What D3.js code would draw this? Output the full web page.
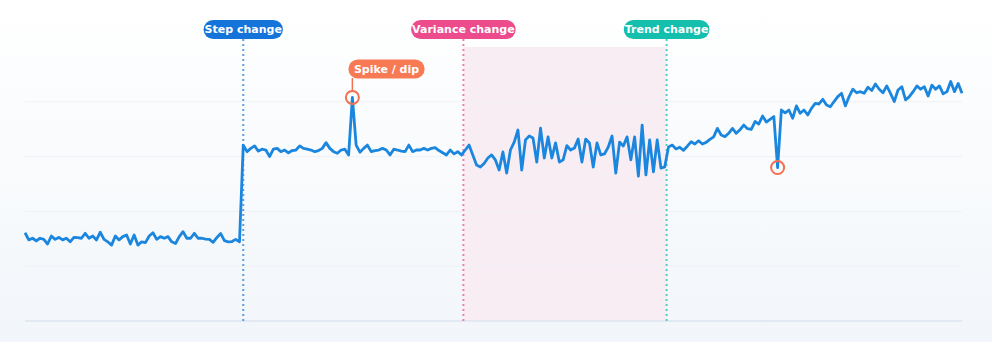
<!DOCTYPE html>
<head>
    <style>
        body { margin: 0; background: #fff; }
        svg { display: block; font-family: "DejaVu Sans", sans-serif; }
        .grid line { stroke: #eef1f6; stroke-width: 1px; }
        .baseline { stroke: #dde5ef; stroke-width: 1.5px; }
        path.series { fill: none; stroke: #1a86de; stroke-width: 2.8px; stroke-linejoin: round; }
        .pill text { fill: #fff; font-size: 11px; font-weight: bold; }
    </style>
</head>
<body>
    <script src="https://d3js.org/d3.v7.min.js"></script>
    <script>
        // regime 1: flat, low
        var lowLevel = [32.2, 29.6, 30.2, 29.2, 30.2, 29.8, 28.1, 31.0, 29.8, 30.5,
                        29.6, 30.2, 28.9, 30.5, 30.4, 30.2, 32.0, 30.2, 31.0, 29.6,
                        32.4, 29.8, 28.9, 27.7, 31.0, 29.6, 30.8, 31.4, 28.1, 31.4,
                        27.7, 28.9, 28.6, 31.0, 32.2, 29.8, 30.8, 30.2, 30.8, 28.9,
                        28.3, 30.8, 32.6, 30.2, 30.2, 32.0, 30.2, 30.2, 29.9, 29.8,
                        28.7, 30.5, 31.9, 29.3, 28.9, 29.0, 29.8, 28.9];
        // regime 2: after the step, one spike
        var highLevel = [64.2, 61.8, 63.0, 63.9, 62.0, 62.7, 62.4, 60.0, 62.7, 63.0,
                         61.8, 62.4, 61.4, 62.2, 62.4, 63.9, 63.0, 62.7, 62.4, 61.8,
                         62.2, 63.0, 65.1, 63.0, 61.8, 61.2, 62.4, 62.7, 60.6,
                         81.6,
                         64.2, 61.6, 63.0, 64.2, 61.8, 62.2, 62.4, 63.0, 62.4, 60.6,
                         62.7, 62.4, 62.0, 61.8, 64.2, 61.8, 62.4, 62.4, 63.0, 62.4,
                         63.0, 63.3, 62.2, 61.4, 60.6, 62.4, 61.0, 61.8, 60.6];
        // regime 3: same mean, more variance
        var noisyLevel = [62.4, 64.2, 60.6, 56.9, 56.2, 57.5, 59.5, 60.6, 58.8, 55.1,
                          61.7, 54.0, 62.4, 65.3, 69.7, 55.1, 66.1, 67.5, 66.8, 58.0,
                          70.4, 59.5, 67.2, 59.5, 65.0, 58.0, 58.8, 64.0, 62.4, 63.1,
                          66.4, 58.0, 66.4, 65.0, 56.2, 65.0, 60.6, 61.0, 63.5, 67.5,
                          54.0, 65.3, 63.9, 67.2, 58.8, 67.2, 52.9, 71.5, 53.3, 66.1,
                          54.4, 66.1, 55.8, 56.2];
        // regime 4: upward trend, one dip
        var trendLevel = [63.5, 64.2, 62.8, 63.4, 62.3, 63.8, 65.4, 64.6, 65.8, 64.6,
                          65.2, 66.3, 67.2, 70.3, 67.9, 67.3, 68.5, 70.3, 68.5, 69.8,
                          71.5, 70.2, 69.9, 72.8, 71.9, 74.8, 72.6, 73.6, 74.6,
                          56.0,
                          77.0, 76.0, 77.0, 74.0, 78.5, 75.8, 77.0, 75.2, 77.6, 79.4,
                          79.2, 80.9, 78.8, 78.2, 80.1, 81.9, 83.1, 78.5, 81.9, 84.6,
                          83.3, 83.7, 83.1, 85.3, 84.1, 86.5, 84.6, 83.3, 85.8, 83.1,
                          80.1, 84.3, 85.5, 80.7, 81.9, 83.7, 85.8, 84.6, 85.5, 82.1,
                          86.1, 84.6, 85.8, 82.9, 83.7, 87.4, 83.7, 86.7, 83.1];

        var values = lowLevel.concat(highLevel, noisyLevel, trendLevel);

        var eventNames = ['Step change', 'Variance change', 'Trend change'];
        var eventAt = [58, 116.5, 170.5];
        var eventColors = ['#1474d9', '#ec4b8c', '#14bfae'];
        var eventLineColors = ['#5a9fe6', '#f0809f', '#4fcfc6'];

        var anomalyAt = [87, 200];
        var anomalyLabel = 'Spike / dip';

        var gridTicks = [20, 40, 60, 80];

        var dim = {w: 992, h: 342,
                   margin: {left: 25, right: 30, top: 47, bottom: 21}};

        var svg = d3.select('body').append('svg')
                    .attr('width', dim.w)
                    .attr('height', dim.h);

        var grad = svg.append('defs').append('linearGradient')
                      .attr('id', 'bg').attr('x1', 0).attr('y1', 0)
                      .attr('x2', 0).attr('y2', 1);
        grad.append('stop').attr('offset', '0%').attr('stop-color', '#ffffff');
        grad.append('stop').attr('offset', '100%').attr('stop-color', '#f2f6fa');
        svg.append('rect').attr('width', dim.w).attr('height', dim.h)
           .attr('fill', 'url(#bg)');

        var x = d3.scaleLinear()
                  .domain([0, values.length - 1])
                  .range([dim.margin.left, dim.w - dim.margin.right]);
        var y = d3.scaleLinear()
                  .domain([0, 100])
                  .range([dim.h - dim.margin.bottom, dim.margin.top]);

        // variance band
        svg.append('rect')
           .attr('x', x(eventAt[1]))
           .attr('y', y(100))
           .attr('width', x(eventAt[2]) - x(eventAt[1]))
           .attr('height', y(0) - y(100))
           .attr('fill', '#f9edf4');

        svg.append('g').attr('class', 'grid')
           .selectAll('line').data(gridTicks).enter()
           .append('line')
           .attr('x1', x(0)).attr('x2', x(values.length - 1))
           .attr('y1', d => y(d)).attr('y2', d => y(d));

        svg.append('line').attr('class', 'baseline')
           .attr('x1', x(0)).attr('x2', x(values.length - 1))
           .attr('y1', y(0)).attr('y2', y(0));

        // event markers
        svg.selectAll('line.event').data(eventAt).enter()
           .append('line').attr('class', 'event')
           .attr('x1', d => x(d)).attr('x2', d => x(d))
           .attr('y1', 39).attr('y2', y(0))
           .attr('stroke', (d, i) => eventLineColors[i])
           .attr('stroke-width', 2)
           .attr('stroke-dasharray', '2,3');

        var line = d3.line()
                     .x((d, i) => x(i))
                     .y(d => y(d));

        svg.append('path').datum(values)
           .attr('class', 'series')
           .attr('d', line);

        function pill(cx, cy, label, color, pad, leftAt) {
            var g = svg.append('g').attr('class', 'pill');
            var r = g.append('rect');
            var t = g.append('text').text(label)
                     .attr('dy', '0.35em')
                     .attr('y', cy);
            var w = t.node().getComputedTextLength();
            var left = leftAt != null ? leftAt : cx - (w + 2 * pad) / 2;
            t.attr('x', left + pad);
            r.attr('x', left).attr('y', cy - 9.5)
             .attr('width', w + 2 * pad).attr('height', 19)
             .attr('rx', 9.5).attr('fill', color);
        }

        eventAt.forEach(function(d, i) {
            pill(x(d), 29.5, eventNames[i], eventColors[i], 1);
        });

        // anomalies
        svg.append('line')
           .attr('x1', x(anomalyAt[0])).attr('x2', x(anomalyAt[0]))
           .attr('y1', 78).attr('y2', y(values[anomalyAt[0]]) - 6.5)
           .attr('stroke', '#f46e50').attr('stroke-width', 1.5);
        pill(0, 69, anomalyLabel, '#f77a55', 5.5, x(anomalyAt[0]) - 4);

        svg.selectAll('circle.anomaly').data(anomalyAt).enter()
           .append('circle').attr('class', 'anomaly')
           .attr('cx', d => x(d))
           .attr('cy', d => y(values[d]))
           .attr('r', 6.5)
           .attr('fill', 'none')
           .attr('stroke', '#f46e50')
           .attr('stroke-width', 2);
    </script>
</body>
